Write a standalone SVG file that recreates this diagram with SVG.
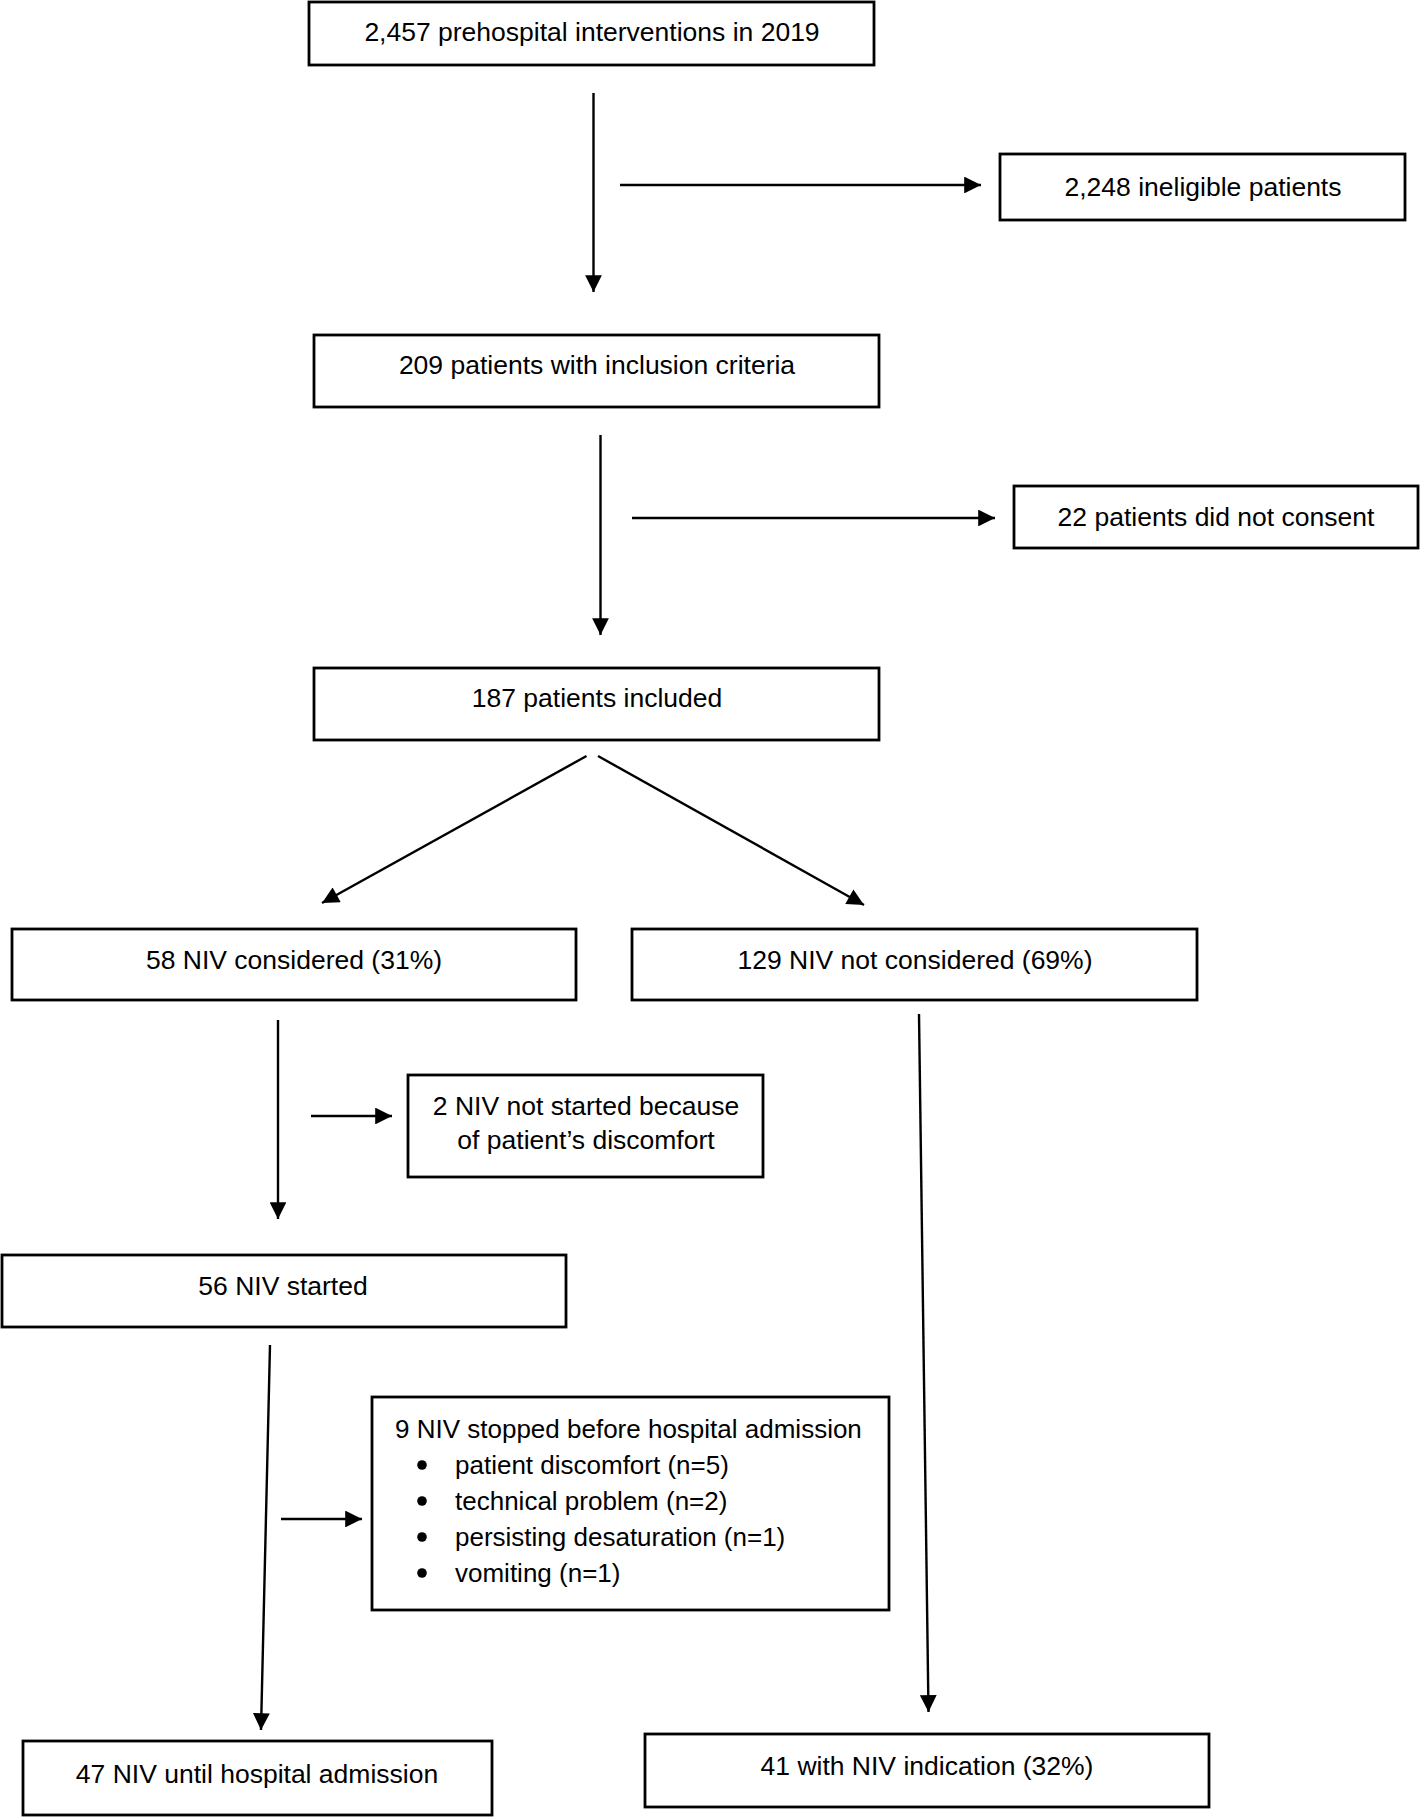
<svg xmlns="http://www.w3.org/2000/svg" width="1420" height="1818" viewBox="0 0 1420 1818">
<style>
.box{fill:#fff;stroke:#000;stroke-width:2.8}
.t{font-family:"Liberation Sans",Arial,sans-serif;font-size:26.5px;fill:#000;text-anchor:middle}
.tl{font-family:"Liberation Sans",Arial,sans-serif;font-size:26px;fill:#000}
.c{stroke:#000;stroke-width:2.4;fill:none;marker-end:url(#ah)}
</style>
<defs>
<marker id="ah" viewBox="0 0 10 10" refX="10" refY="5" markerWidth="8" markerHeight="7" orient="auto" markerUnits="strokeWidth">
<path d="M0,0 L10,5 L0,10 Z" fill="#000"/>
</marker>
</defs>
<rect width="1420" height="1818" fill="#fff"/>
<g id="connectors">
<line class="c" x1="593.5" y1="93" x2="593.5" y2="292"/>
<line class="c" x1="620" y1="185" x2="981" y2="185"/>
<line class="c" x1="600.5" y1="435" x2="600.5" y2="635"/>
<line class="c" x1="632" y1="518" x2="995" y2="518"/>
<line class="c" x1="586.5" y1="756" x2="322" y2="903"/>
<line class="c" x1="598" y1="756" x2="864" y2="905"/>
<line class="c" x1="278" y1="1020" x2="278" y2="1219"/>
<line class="c" x1="311" y1="1116" x2="392" y2="1116"/>
<line class="c" x1="270" y1="1345" x2="261" y2="1730"/>
<line class="c" x1="281" y1="1519" x2="362" y2="1519"/>
<line class="c" x1="919" y1="1014" x2="928.5" y2="1712"/>
</g>
<g id="n1"><rect class="box" x="309" y="2" width="565" height="63"/><text class="t" x="592" y="41">2,457 prehospital interventions in 2019</text></g>
<g id="n2"><rect class="box" x="1000" y="154" width="405" height="66"/><text class="t" x="1203" y="196">2,248 ineligible patients</text></g>
<g id="n3"><rect class="box" x="314" y="335" width="565" height="72"/><text class="t" x="597" y="374">209 patients with inclusion criteria</text></g>
<g id="n4"><rect class="box" x="1014" y="486" width="404" height="62"/><text class="t" x="1216" y="526">22 patients did not consent</text></g>
<g id="n5"><rect class="box" x="314" y="668" width="565" height="72"/><text class="t" x="597" y="707">187 patients included</text></g>
<g id="n6"><rect class="box" x="12" y="929" width="564" height="71"/><text class="t" x="294" y="969">58 NIV considered (31%)</text></g>
<g id="n7"><rect class="box" x="632" y="929" width="565" height="71"/><text class="t" x="915" y="969">129 NIV not considered (69%)</text></g>
<g id="n8"><rect class="box" x="408" y="1075" width="355" height="102"/><text class="t" x="586" y="1115">2 NIV not started because</text><text class="t" x="586" y="1149">of patient’s discomfort</text></g>
<g id="n9"><rect class="box" x="2" y="1255" width="564" height="72"/><text class="t" x="283" y="1295">56 NIV started</text></g>
<g id="n10"><rect class="box" x="372" y="1397" width="517" height="213"/>
<text class="tl" x="395" y="1438">9 NIV stopped before hospital admission</text>
<circle cx="422" cy="1465" r="4.8"/><text class="tl" x="455" y="1474">patient discomfort (n=5)</text>
<circle cx="422" cy="1501" r="4.8"/><text class="tl" x="455" y="1510">technical problem (n=2)</text>
<circle cx="422" cy="1537" r="4.8"/><text class="tl" x="455" y="1546">persisting desaturation (n=1)</text>
<circle cx="422" cy="1573" r="4.8"/><text class="tl" x="455" y="1582">vomiting (n=1)</text>
</g>
<g id="n11"><rect class="box" x="23" y="1741" width="469" height="74"/><text class="t" x="257" y="1783">47 NIV until hospital admission</text></g>
<g id="n12"><rect class="box" x="645" y="1734" width="564" height="73"/><text class="t" x="927" y="1775">41 with NIV indication (32%)</text></g>
</svg>
